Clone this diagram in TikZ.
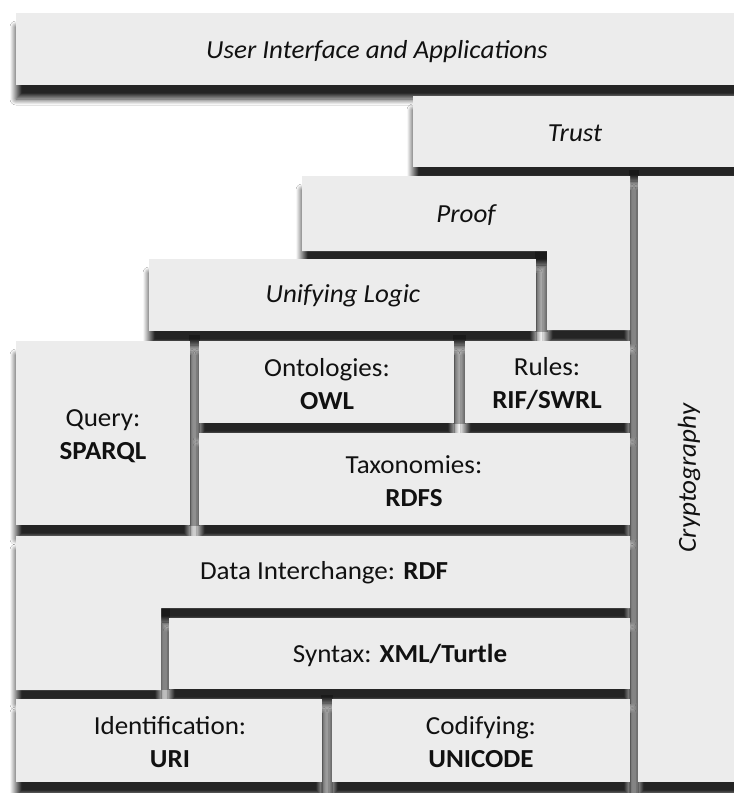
\documentclass[tikz,border=0pt]{standalone}
\usepackage{fontspec}
\setmainfont{Carlito}[FakeStretch=1.04]
\usetikzlibrary{shadows.blur}

\definecolor{slab}{HTML}{ECECEC}
\definecolor{ink}{HTML}{111111}
\definecolor{seam}{HTML}{B4B4B4}

% every block of the stack, drawn with the style given as argument
\newcommand\cakeslabs[1]{%
  \path[#1] (16,13) rectangle (745,85);                       % user interface
  \path[#1] (413,96) rectangle (745,167);                     % trust
  \path[#1] (302,176) -- (630,176) -- (630,330) -- (547,330)
            -- (547,251) -- (302,251) -- cycle;               % proof
  \path[#1] (638,176) rectangle (745,782);                    % cryptography
  \path[#1] (149,259) rectangle (536,331);                    % unifying logic
  \path[#1] (16,341) rectangle (190,525);                     % query
  \path[#1] (199,341) rectangle (454,423);                    % ontologies
  \path[#1] (465,341) rectangle (630,423);                    % rules
  \path[#1] (199,433) rectangle (630,525);                    % taxonomies
  \path[#1] (16,536) -- (630,536) -- (630,608) -- (161,608)
            -- (161,690) -- (16,690) -- cycle;                % data interchange
  \path[#1] (169,618) rectangle (630,689);                    % syntax
  \path[#1] (16,699) rectangle (322,782);                     % identification
  \path[#1] (332,699) rectangle (630,782);                    % codifying
}

\tikzset{
  dropshade/.style={blur shadow={shadow xshift=0pt, shadow yshift=-14pt,
      shadow blur radius=6pt, shadow opacity=86, shadow blur steps=12}},
  slabfill/.style={fill=slab},
  seamfill/.style={fill=seam},
  lbl/.style={text=ink, align=center, inner sep=0pt,
      font=\fontsize{26}{33}\selectfont},
}

\begin{document}
\begin{tikzpicture}[x=1pt,y=-1pt]
  \useasboundingbox (0,0) rectangle (734,793);
  \clip (0,0) rectangle (734,793);
  \fill[white] (0,0) rectangle (734,793);

  % narrow seams between blocks that stand side by side
  \path[seamfill] (629,170) rectangle (639,793);
  \path[seamfill] (535,250) rectangle (548,332);
  \path[seamfill] (189,335) rectangle (200,526);
  \path[seamfill] (453,335) rectangle (466,424);
  \path[seamfill] (160,605) rectangle (170,690);
  \path[seamfill] (321,695) rectangle (333,793);

  % shadows first, then the blocks on top of them
  \cakeslabs{dropshade}
  \cakeslabs{slabfill}

  \node[lbl] (ui) at (377,52) {\itshape User Interface and Applications};
  \node[lbl] (trust) at (575,133) {\itshape Trust};
  \node[lbl] (proof) at (466,215) {\itshape Proof};
  \node[lbl] (logic) at (343,296) {\itshape Unifying Logic};
  \node[lbl] (crypto) at (689,478) [rotate=90] {\itshape Cryptography};
  \node[lbl] (query) at (103,436) {Query:\\\textbf{SPARQL}};
  \node[lbl] (owl) at (327,384) {Ontologies:\\\textbf{OWL}};
  \node[lbl] (rules) at (547,384) {Rules:\\\textbf{RIF/SWRL}};
  \node[lbl] (rdfs) at (414,481) {Taxonomies:\\\textbf{RDFS}};
  \node[lbl] (rdf) at (324,573) {Data Interchange: \textbf{RDF}};
  \node[lbl] (syntax) at (400,655) {Syntax: \textbf{XML/Turtle}};
  \node[lbl] (uri) at (170,742) {Identification:\\\textbf{URI}};
  \node[lbl] (unicode) at (481,742) {Codifying:\\\textbf{UNICODE}};
\end{tikzpicture}
\end{document}
